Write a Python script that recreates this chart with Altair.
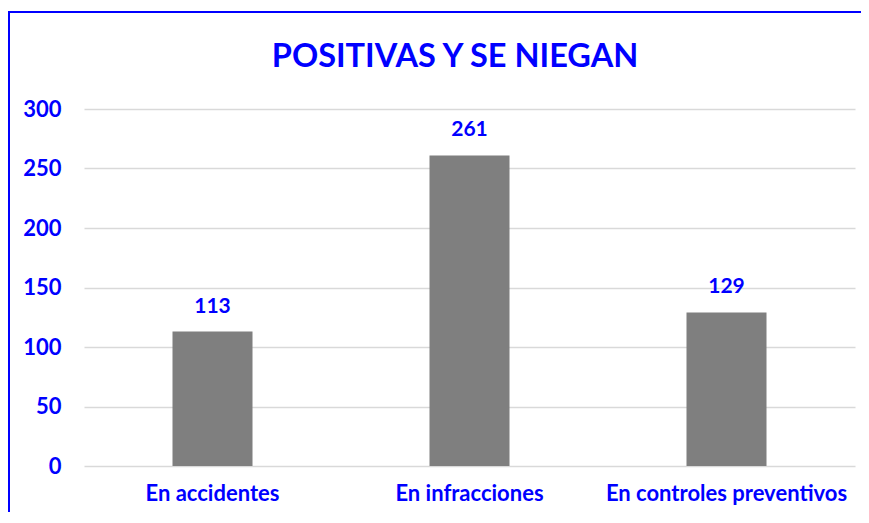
import altair as alt
import pandas as pd

categories = ["En accidentes", "En infracciones", "En controles preventivos"]
values = [113, 261, 129]
title_text = "POSITIVAS Y SE NIEGAN"

df = pd.DataFrame({"cat": categories, "val": values})
tdf = pd.DataFrame({"t": [title_text]})

BLUE = "#0000ff"
FONT = "Lato"

base = alt.Chart(df)

bars = base.mark_bar(color="#7f7f7f", size=80).encode(
    x=alt.X("cat:N", sort=categories, title=None,
            scale=alt.Scale(paddingInner=0, paddingOuter=0),
            axis=alt.Axis(labelAngle=0, labelFont=FONT, labelFontSize=22,
                          labelFontWeight="bold", labelColor=BLUE,
                          labelPadding=17, ticks=False, domain=False,
                          labelBaseline="top", labelLimit=0)),
    y=alt.Y("val:Q", title=None,
            scale=alt.Scale(domain=[0, 300], nice=False),
            axis=alt.Axis(values=[0, 50, 100, 150, 200, 250, 300],
                          labelFont=FONT, labelFontSize=22,
                          labelFontWeight="bold", labelColor=BLUE,
                          labelPadding=23, ticks=False, domain=False,
                          gridColor="#d9d9d9", gridWidth=1.5)),
)

text = base.mark_text(font=FONT, fontSize=21, fontWeight="bold", color=BLUE,
                      baseline="alphabetic", dy=-19).encode(
    x=alt.X("cat:N", sort=categories),
    y=alt.Y("val:Q"),
    text=alt.Text("val:Q"),
)

title = alt.Chart(tdf).mark_text(font=FONT, fontSize=32.5, fontWeight="bold",
                                 color=BLUE, baseline="middle", align="center").encode(
    x=alt.value(371), y=alt.value(-52), text="t:N",
)

border = base.mark_rect(fill=None, stroke=BLUE, strokeWidth=2).encode(
    x=alt.value(-75), x2=alt.value(900),
    y=alt.value(-97), y2=alt.value(600),
)

chart = alt.layer(bars, text, title, border).properties(
    width=771, height=357,
    autosize=alt.AutoSizeParams(type="none"),
    padding={"left": 76, "top": 101, "right": 6, "bottom": 46},
).configure(background="white", view=alt.ViewConfig(stroke=None))

chart.save("out.html", embed_options={"renderer": "svg", "actions": False})
